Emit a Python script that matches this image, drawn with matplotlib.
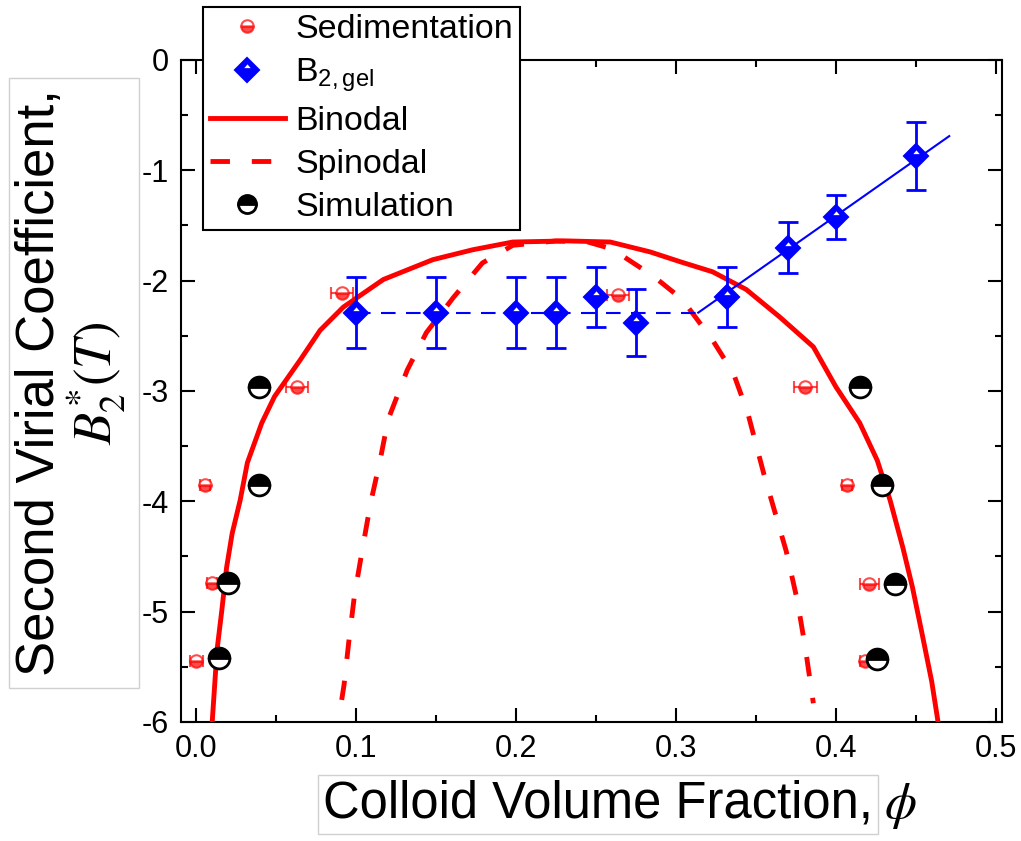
import matplotlib
matplotlib.use("Agg")
import matplotlib.pyplot as plt
from matplotlib.lines import Line2D
from matplotlib.path import Path

plt.rcParams['font.family'] = ['Liberation Sans', 'DejaVu Sans']
plt.rcParams['mathtext.fontset'] = 'custom'
plt.rcParams['mathtext.rm'] = 'Liberation Sans'
plt.rcParams['mathtext.it'] = 'Liberation Sans:italic'

# binodal (solid red)
binodal_phi = [0.010, 0.013, 0.016, 0.019, 0.0225, 0.0275, 0.032, 0.041, 0.049, 0.065,
               0.0775, 0.092, 0.117, 0.148, 0.173, 0.198, 0.232, 0.259, 0.284, 0.303,
               0.323, 0.344, 0.365, 0.386, 0.400, 0.415, 0.426, 0.434, 0.442, 0.448,
               0.454, 0.460, 0.464]
binodal_b = [-6.0, -5.35, -4.99, -4.6, -4.29, -3.99, -3.65, -3.29, -3.05, -2.72,
             -2.45, -2.24, -1.99, -1.81, -1.72, -1.65, -1.64, -1.65, -1.74, -1.83,
             -1.92, -2.08, -2.33, -2.6, -2.96, -3.29, -3.63, -3.99, -4.42, -4.78,
             -5.2, -5.63, -6.0]

# spinodal (dashed red)
spinodal_phi = [0.091, 0.0925, 0.0956, 0.099, 0.104, 0.109, 0.115, 0.120, 0.132, 0.144,
                0.161, 0.179, 0.198, 0.225, 0.245, 0.257, 0.265, 0.286, 0.304, 0.323,
                0.336, 0.345, 0.355, 0.362, 0.369, 0.376, 0.381, 0.386]
spinodal_b = [-5.8, -5.66, -5.25, -4.85, -4.43, -4.02, -3.63, -3.26, -2.81, -2.47,
              -2.15, -1.84, -1.68, -1.64, -1.65, -1.70, -1.76, -1.96, -2.17, -2.54,
              -2.84, -3.2, -3.75, -4.1, -4.45, -4.9, -5.33, -5.83]

# sedimentation points
sed_phi = [0.0, 0.010, 0.0056, 0.063, 0.091, 0.264, 0.381, 0.407, 0.421, 0.418]
sed_b = [-5.45, -4.74, -3.85, -2.96, -2.11, -2.13, -2.96, -3.85, -4.75, -5.45]
sed_err = [0.004, 0.003, 0.003, 0.007, 0.007, 0.007, 0.007, 0.003, 0.006, 0.003]

# simulation points
sim_phi = [0.014, 0.020, 0.039, 0.039, 0.415, 0.429, 0.437, 0.426]
sim_b = [-5.42, -4.74, -3.85, -2.96, -2.96, -3.85, -4.75, -5.43]

# B2,gel points
gel_phi = [0.100, 0.150, 0.200, 0.225, 0.250, 0.275, 0.332, 0.370, 0.400, 0.450]
gel_b = [-2.29, -2.29, -2.29, -2.29, -2.15, -2.38, -2.15, -1.70, -1.42, -0.87]
gel_err = [0.32, 0.32, 0.32, 0.32, 0.27, 0.30, 0.27, 0.23, 0.20, 0.31]

# B2,gel guide lines
plateau_phi = [0.100, 0.314]
plateau_b = [-2.29, -2.29]
rise_phi = [0.314, 0.471]
rise_b = [-2.29, -0.69]

RED = '#ff0000'
BLUE = '#0000ff'
TICKFONT = ['Liberation Sans Narrow', 'Liberation Sans']

# small white notch drawn on top of the blue diamonds (extra moveto points keep the scale)
notch = Path([(0, -1), (0, 1), (0, 0.52), (0.27, 0.2), (-0.27, 0.2), (0, 0.52)],
             [Path.MOVETO, Path.MOVETO, Path.MOVETO, Path.LINETO, Path.LINETO,
              Path.CLOSEPOLY])


def gel_marker_kw():
    return dict(ls='none', marker='D', ms=12, mfc=BLUE, mec=BLUE, mew=1.5)


def notch_kw():
    return dict(ls='none', marker=notch, ms=17, mfc='white', mec='none')


fig = plt.figure(figsize=(10.21, 8.41), dpi=100)
ax = fig.add_axes([0.1773, 0.1415, 0.8041, 0.7872])

ax.plot(spinodal_phi, spinodal_b, color=RED, lw=3.5, dashes=(4, 4.5), zorder=2)
ax.plot(binodal_phi, binodal_b, color=RED, lw=3.5, zorder=3)

ax.errorbar(sed_phi, sed_b, xerr=sed_err, fmt='o', ms=9, color=RED, alpha=0.7,
            fillstyle='bottom', mfc=RED, mfcalt='white', mec=RED, mew=1.5,
            elinewidth=1.5, capsize=4, capthick=1.5, zorder=4)

ax.plot(plateau_phi, plateau_b, color=BLUE, lw=1.5, dashes=(7, 5), zorder=5)
ax.plot(rise_phi, rise_b, color=BLUE, lw=1.5, zorder=5)
ax.errorbar(gel_phi, gel_b, yerr=gel_err, fmt='none', ecolor=BLUE,
            elinewidth=2, capsize=7, capthick=2, zorder=6)
ax.plot(gel_phi, gel_b, zorder=6, **gel_marker_kw())
ax.plot(gel_phi, gel_b, zorder=6.5, **notch_kw())

ax.plot(sim_phi, sim_b, 'o', ms=15, color='black', fillstyle='top',
        mfc='black', mfcalt='white', mec='black', mew=2, zorder=7)

ax.set_xlim(-0.0095, 0.504)
ax.set_ylim(-6, 0)
ax.set_xticks([0.0, 0.1, 0.2, 0.3, 0.4, 0.5])
ax.set_xticks([0.05, 0.15, 0.25, 0.35, 0.45], minor=True)
ax.set_xticklabels(['0.0', '0.1', '0.2', '0.3', '0.4', '0.5'], family=TICKFONT)
ax.set_yticks([0, -1, -2, -3, -4, -5, -6])
ax.set_yticks([-0.5, -1.5, -2.5, -3.5, -4.5, -5.5], minor=True)
ax.set_yticklabels(['0', '-1', '-2', '-3', '-4', '-5', '-6'], family=TICKFONT)
ax.tick_params(which='both', direction='in', top=True, right=True, width=1.5,
               labelsize=22, pad=9)
ax.tick_params(which='major', length=10)
ax.tick_params(which='minor', length=5)
for s in ax.spines.values():
    s.set_linewidth(1.5)

fig.text(323 / 1021, 1 - 818 / 841, 'Colloid Volume Fraction,', fontsize=36.5,
         ha='left', va='baseline',
         bbox=dict(boxstyle='square,pad=0.1', facecolor='white',
                   edgecolor='#d0d0d0', lw=1))
fig.text(884 / 1021, 1 - 818 / 841, '$\\phi$', fontsize=37,
         math_fontfamily='stix', ha='left', va='baseline')
fig.text(0.070, 0.5446, 'Second Virial Coefficient,\n$B_2^{*}(T)$', fontsize=38,
         math_fontfamily='stix', rotation=90, ha='center', va='center',
         multialignment='center', linespacing=0.98,
         bbox=dict(boxstyle='square,pad=0.22', facecolor='white',
                   edgecolor='#d0d0d0', lw=1))

handles = [
    Line2D([], [], ls='none', marker='o', ms=9, color=RED, alpha=0.7,
           fillstyle='bottom', mfc=RED, mfcalt='white', mec=RED, mew=1.5),
    (Line2D([], [], **gel_marker_kw()), Line2D([], [], **notch_kw())),
    Line2D([], [], color=RED, lw=3.5),
    Line2D([], [], color=RED, lw=3.5, dashes=(4, 4.5)),
    Line2D([], [], ls='none', marker='o', ms=13, color='black', fillstyle='top',
           mfc='black', mfcalt='white', mec='black', mew=2),
]
labels = ['Sedimentation', 'B$_{2,\\mathrm{gel}}$', 'Binodal', 'Spinodal', 'Simulation']
leg = fig.legend(handles, labels, loc='lower left',
                 bbox_to_anchor=(0.199, 1 - 230 / 841),
                 fontsize=24.5, frameon=True, fancybox=False, edgecolor='black',
                 framealpha=1, borderpad=0.2, labelspacing=0.35,
                 handlelength=2.2, handletextpad=0.3, borderaxespad=0)
leg.get_frame().set_linewidth(1.5)

fig.savefig('out.png', dpi=100)
